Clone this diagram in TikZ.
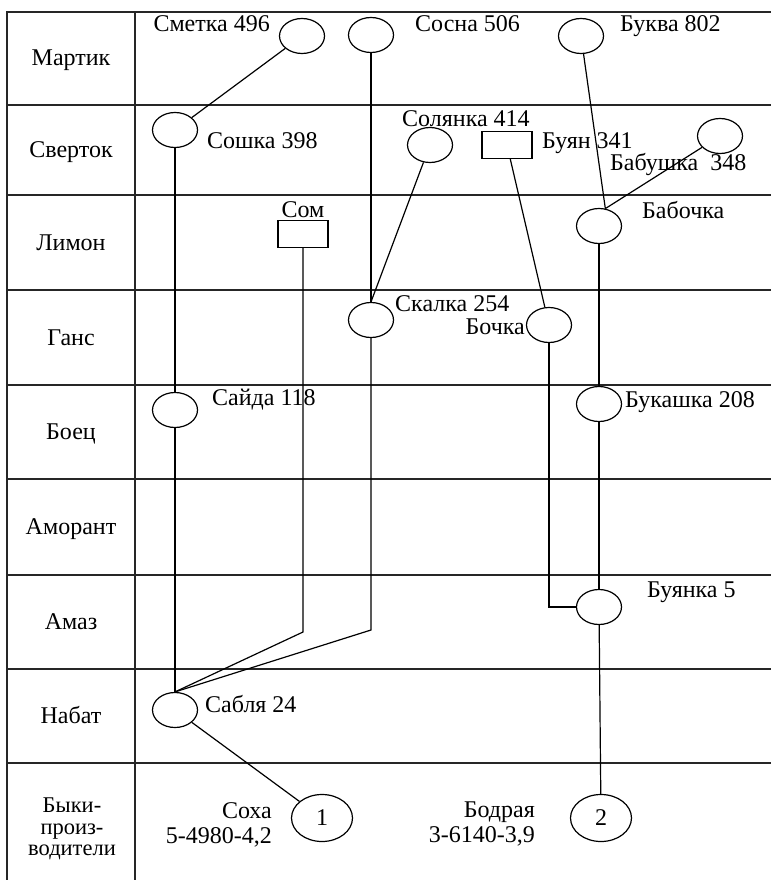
\documentclass[tikz,border=0pt]{standalone}
\usepackage{fontspec}
\setmainfont{Liberation Serif}
\usetikzlibrary{shapes.geometric,positioning}
\tikzset{
  frameline/.style={line width=1.3pt, draw=black!85},
  cow/.style={draw, ellipse, line width=1.2pt, minimum width=45pt, minimum height=35pt, inner sep=0pt},
  bigcow/.style={cow, minimum width=61pt, minimum height=47pt},
  bullbox/.style={draw, rectangle, line width=1.2pt, minimum width=50pt, minimum height=27pt, inner sep=0pt},
  link/.style={line width=1.2pt},
  nametag/.style={inner sep=0pt},
  rowname/.style={inner sep=0pt, anchor=base},
}
\def\xA{175}
\def\xB{303}
\def\xC{371}
\def\xD{549}
\def\xE{599}

\begin{document}
\begin{tikzpicture}[x=1pt,y=-1pt,font=\fontsize{24}{26}\selectfont]
  \useasboundingbox (0,0) rectangle (771,880);
  % table
  \draw[frameline] (7,880) -- (7,12) -- (771,12);
  \draw[frameline] (135,12) -- (135,880);
  \foreach \y in {105,195,290,385,479,575,669,763}
    \draw[frameline] (7,\y) -- (771,\y);
  \foreach \y/\n [count=\i] in {66/Мартик,157.5/Сверток,250/Лимон,345/Ганс,439.5/Боец,534.5/Аморант,629.5/Амаз,723.5/Набат}
    \node[rowname] (row\i) at (71,\y) {\n};
  \node[align=center, inner sep=0pt, font=\fontsize{22.5}{21.5}\selectfont] (rowbulls) at (72,829) {Быки-\\произ-\\водители};

  % animals
  \node[cow] (smetka) at (302,36) {};
  \node[cow] (sosna) at (\xC,35) {};
  \node[cow] (bukva) at (581,36) {};
  \node[cow] (soshka) at (\xA,130) {};
  \node[cow] (solyanka) at (430,145) {};
  \node[bullbox] (buyan) at (507,145) {};
  \node[cow] (babushka) at (720,136) {};
  \node[bullbox] (som) at (\xB,234) {};
  \node[cow] (babochka) at (\xE,226) {};
  \node[cow] (skalka) at (\xC,320) {};
  \node[cow] (bochka) at (\xD,325) {};
  \node[cow] (saida) at (\xA,410) {};
  \node[cow] (bukashka) at (\xE,404) {};
  \node[cow] (buyanka) at (\xE,607) {};
  \node[cow] (sablya) at (\xA,710) {};
  \node[bigcow] (bullA) at (322,818) {1};
  \node[bigcow] (bullB) at (601,818) {2};
  \coordinate (somBend) at (\xB,632);
  \coordinate (skalBend) at (\xC,630);

  % names
  \node[nametag, anchor=base east] (smetkaT) at (270,32) {Сметка 496};
  \node[nametag, anchor=base west] (sosnaT) at (415,32) {Сосна 506};
  \node[nametag, anchor=base west] (bukvaT) at (620,32) {Буква 802};
  \node[nametag, anchor=base west] (soshkaT) at (207,148) {Сошка 398};
  \node[nametag, anchor=base west] (solyankaT) at (402,127) {Солянка 414};
  \node[nametag, anchor=base west] (buyanT) at (542,148) {Буян 341};
  \node[nametag, anchor=base west] (babushkaT) at (610,170) {Бабушка\enspace348};
  \node[nametag, anchor=base] (somT) at (\xB,217) {Сом};
  \node[nametag, anchor=base west] (babochkaT) at (642,218) {Бабочка};
  \node[nametag, anchor=base west] (skalkaT) at (395,311) {Скалка 254};
  \node[nametag, anchor=base east] (bochkaT) at (525,334) {Бочка};
  \node[nametag, anchor=base west] (saidaT) at (212,405) {Сайда 118};
  \node[nametag, anchor=base west] (bukashkaT) at (625,407) {Букашка 208};
  \node[nametag, anchor=base west] (buyankaT) at (647,597) {Буянка 5};
  \node[nametag, anchor=base west] (sablyaT) at (205,712) {Сабля 24};
  \node[nametag, anchor=base east] (sokhaT) at (272,818) {Соха};
  \node[nametag, anchor=base east] (sokhaN) at (272,843) {5-4980-4,2};
  \node[nametag, anchor=base east] (bodrayaT) at (535,817) {Бодрая};
  \node[nametag, anchor=base east] (bodrayaN) at (535,842) {3-6140-3,9};

  % lines of descent
  \draw[link] (smetka) -- (soshka);
  \draw[link] (sosna) -- (skalka);
  \draw[link] (solyanka) -- (skalka.north);
  \draw[link] (bukva) -- (babochka.70);
  \draw[link] (babushka) -- (babochka.70);
  \draw[link] (buyan) -- (bochka);
  \draw[link] (soshka) -- (saida);
  \draw[link] (saida) -- (sablya);
  \draw[link] (som) -- (somBend) -- (sablya.north);
  \draw[link] (skalka) -- (skalBend) -- (sablya.north);
  \draw[link] (babochka) -- (bukashka);
  \draw[link] (bukashka) -- (buyanka);
  \draw[link] (bochka) |- (buyanka);
  \draw[link] (buyanka) -- (bullB);
  \draw[link] (sablya) -- (bullA);
\end{tikzpicture}
\end{document}
